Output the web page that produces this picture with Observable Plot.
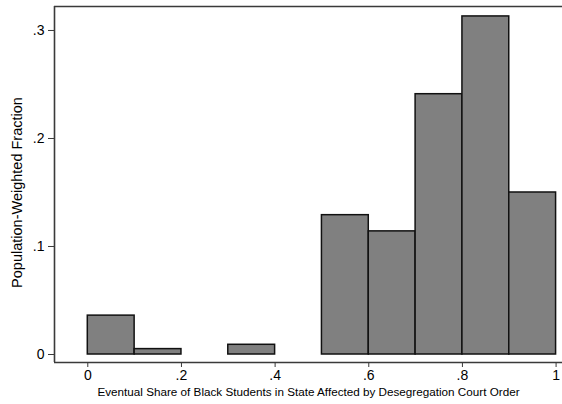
<!DOCTYPE html>
<html>
<head>
<meta charset="utf-8">
<script src="https://cdn.jsdelivr.net/npm/d3@7"></script>
<script src="https://cdn.jsdelivr.net/npm/@observablehq/plot@0.6"></script>
<style>
  html, body { margin: 0; padding: 0; background: #fff; }
</style>
</head>
<body>
<div id="chart"></div>
<script>
// Histogram bins (start, end) and population-weighted fractions
const binStart = [0.0, 0.1, 0.3, 0.5, 0.6, 0.7, 0.8, 0.9];
const binEnd   = [0.1, 0.2, 0.4, 0.6, 0.7, 0.8, 0.9, 1.0];
const fraction = [0.036, 0.005, 0.009, 0.129, 0.114, 0.241, 0.313, 0.150];

const xTicks = [0, 0.2, 0.4, 0.6, 0.8, 1];
const yTicks = [0, 0.1, 0.2, 0.3];

const xTitle = "Eventual Share of Black Students in State Affected by Desegregation Court Order";
const yTitle = "Population-Weighted Fraction";

const bins = binStart.map((s, i) => ({x1: s, x2: binEnd[i], y: fraction[i]}));

const xDomain = [-0.0711, 1.0137];
const yDomain = [-0.0074, 0.3222];

const fmt = d => d === 0 ? "0" : (d === 1 ? "1" : String(d).replace(/^0/, ""));
const frameColor = "#3a3a3a";

const chart = Plot.plot({
  width: 562,
  height: 404,
  marginLeft: 54,
  marginRight: 0,
  marginTop: 6,
  marginBottom: 42,
  style: {fontFamily: "'Liberation Sans', Arial, sans-serif", background: "#fff", color: "#000"},
  x: {domain: xDomain},
  y: {domain: yDomain},
  marks: [
    Plot.rectY(bins, {x1: "x1", x2: "x2", y: "y", fill: "#808080", stroke: "#111", strokeWidth: 1.5, inset: 0}),
    Plot.ruleY([yDomain[1]], {stroke: frameColor, strokeWidth: 1.6}),
    Plot.ruleY([yDomain[0]], {stroke: frameColor, strokeWidth: 1.6}),
    Plot.ruleX([xDomain[0]], {stroke: frameColor, strokeWidth: 1.6}),
    Plot.axisY({ticks: yTicks, tickFormat: fmt, tickSize: 6, tickPadding: 4, fontSize: 14, label: null, stroke: frameColor}),
    Plot.axisX({ticks: xTicks, tickFormat: fmt, tickSize: 5, tickPadding: 3, fontSize: 14, label: null, stroke: frameColor}),
    Plot.text([yTitle], {frameAnchor: "left", text: d => d, rotate: -90, textAnchor: "middle", lineAnchor: "middle", dx: -37, dy: 8, fontSize: 14.5, fill: "#000"}),
    Plot.text([xTitle], {frameAnchor: "bottom", text: d => d, textAnchor: "middle", lineAnchor: "middle", dy: 30, fontSize: 11.7, fill: "#000"})
  ]
});
document.getElementById("chart").appendChild(chart);
</script>
</body>
</html>
